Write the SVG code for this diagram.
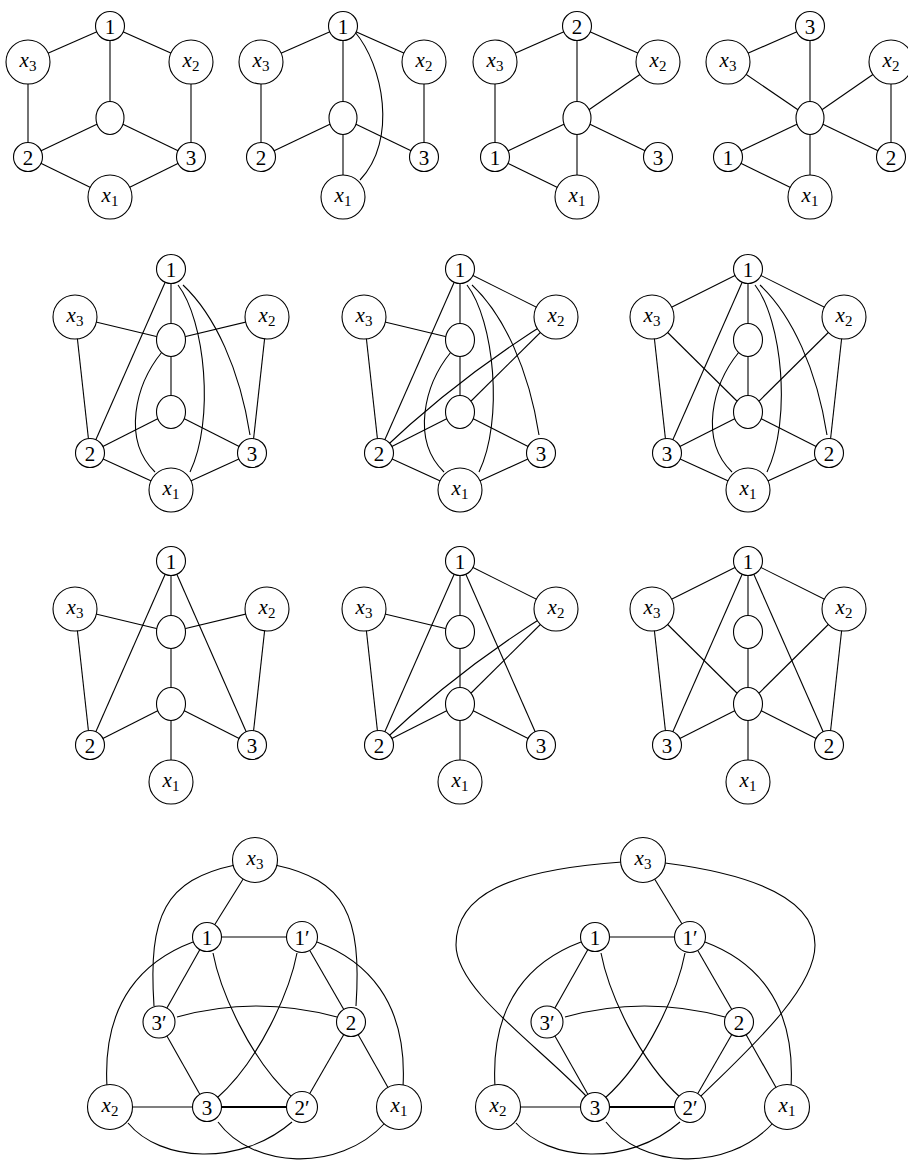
<svg xmlns="http://www.w3.org/2000/svg" width="908" height="1162" viewBox="0 0 908 1162">
<style>
.e{fill:none;stroke:#000;stroke-width:1.1}
.thick{stroke-width:2.2}
.n{fill:#fff;stroke:#000;stroke-width:1.1}
.t{font-family:"Liberation Serif",serif;font-size:21px;text-anchor:middle;fill:#000}
.xi{font-style:italic}
.sub{font-size:15px}
</style>
<rect width="908" height="1162" fill="#fff"/>

<!-- Graph 1 -->
<g id="g1" transform="translate(110,0)">
<g id="g1-edges" class="e">
<line x1="0" y1="26" x2="-82" y2="62"/><line x1="0" y1="26" x2="81" y2="62"/><line x1="0" y1="26" x2="0" y2="118"/>
<line x1="-82" y1="62" x2="-82" y2="157"/><line x1="81" y1="62" x2="81" y2="157"/>
<line x1="0" y1="118" x2="-82" y2="157"/><line x1="0" y1="118" x2="81" y2="157"/>
<line x1="-82" y1="157" x2="0" y2="197"/><line x1="81" y1="157" x2="0" y2="197"/>
</g>
<g id="g1-n1"><circle class="n" cx="0" cy="26" r="14.5"/><text class="t" x="0" y="33.5">1</text></g>
<g id="g1-x3"><circle class="n" cx="-82" cy="62" r="22"/><text class="t" x="-82" y="67"><tspan class="xi">x</tspan><tspan class="sub" dy="4">3</tspan></text></g>
<g id="g1-x2"><circle class="n" cx="81" cy="62" r="22"/><text class="t" x="81" y="67"><tspan class="xi">x</tspan><tspan class="sub" dy="4">2</tspan></text></g>
<g id="g1-c"><ellipse class="n" cx="0" cy="118" rx="14" ry="16.5"/></g>
<g id="g1-n2"><circle class="n" cx="-82" cy="157" r="14.5"/><text class="t" x="-82" y="164.5">2</text></g>
<g id="g1-n3"><circle class="n" cx="81" cy="157" r="14.5"/><text class="t" x="81" y="164.5">3</text></g>
<g id="g1-x1"><circle class="n" cx="0" cy="197" r="22"/><text class="t" x="0" y="202"><tspan class="xi">x</tspan><tspan class="sub" dy="4">1</tspan></text></g>
</g>

<!-- Graph 2 -->
<g id="g2" transform="translate(343,0)">
<g id="g2-edges" class="e">
<line x1="0" y1="26" x2="-82" y2="62"/><line x1="0" y1="26" x2="81" y2="62"/><line x1="0" y1="26" x2="0" y2="118"/>
<line x1="-82" y1="62" x2="-82" y2="157"/><line x1="81" y1="62" x2="81" y2="157"/>
<line x1="0" y1="118" x2="-82" y2="157"/><line x1="0" y1="118" x2="81" y2="157"/>
<line x1="0" y1="118" x2="0" y2="197"/>
<path d="M 12 32 C 40 65, 55 140, 17 180"/>
</g>
<g id="g2-n1"><circle class="n" cx="0" cy="26" r="14.5"/><text class="t" x="0" y="33.5">1</text></g>
<g id="g2-x3"><circle class="n" cx="-82" cy="62" r="22"/><text class="t" x="-82" y="67"><tspan class="xi">x</tspan><tspan class="sub" dy="4">3</tspan></text></g>
<g id="g2-x2"><circle class="n" cx="81" cy="62" r="22"/><text class="t" x="81" y="67"><tspan class="xi">x</tspan><tspan class="sub" dy="4">2</tspan></text></g>
<g id="g2-c"><ellipse class="n" cx="0" cy="118" rx="14" ry="16.5"/></g>
<g id="g2-n2"><circle class="n" cx="-82" cy="157" r="14.5"/><text class="t" x="-82" y="164.5">2</text></g>
<g id="g2-n3"><circle class="n" cx="81" cy="157" r="14.5"/><text class="t" x="81" y="164.5">3</text></g>
<g id="g2-x1"><circle class="n" cx="0" cy="197" r="22"/><text class="t" x="0" y="202"><tspan class="xi">x</tspan><tspan class="sub" dy="4">1</tspan></text></g>
</g>

<!-- Graph 3 -->
<g id="g3" transform="translate(577,0)">
<g id="g3-edges" class="e">
<line x1="0" y1="26" x2="-82" y2="62"/><line x1="0" y1="26" x2="81" y2="62"/><line x1="0" y1="26" x2="0" y2="118"/>
<line x1="-82" y1="62" x2="-82" y2="157"/><line x1="81" y1="62" x2="0" y2="118"/>
<line x1="0" y1="118" x2="-82" y2="157"/><line x1="0" y1="118" x2="81" y2="157"/>
<line x1="0" y1="118" x2="0" y2="197"/><line x1="-82" y1="157" x2="0" y2="197"/>
</g>
<g id="g3-n2"><circle class="n" cx="0" cy="26" r="14.5"/><text class="t" x="0" y="33.5">2</text></g>
<g id="g3-x3"><circle class="n" cx="-82" cy="62" r="22"/><text class="t" x="-82" y="67"><tspan class="xi">x</tspan><tspan class="sub" dy="4">3</tspan></text></g>
<g id="g3-x2"><circle class="n" cx="81" cy="62" r="22"/><text class="t" x="81" y="67"><tspan class="xi">x</tspan><tspan class="sub" dy="4">2</tspan></text></g>
<g id="g3-c"><ellipse class="n" cx="0" cy="118" rx="14" ry="16.5"/></g>
<g id="g3-n1"><circle class="n" cx="-82" cy="157" r="14.5"/><text class="t" x="-82" y="164.5">1</text></g>
<g id="g3-n3"><circle class="n" cx="81" cy="157" r="14.5"/><text class="t" x="81" y="164.5">3</text></g>
<g id="g3-x1"><circle class="n" cx="0" cy="197" r="22"/><text class="t" x="0" y="202"><tspan class="xi">x</tspan><tspan class="sub" dy="4">1</tspan></text></g>
</g>

<!-- Graph 4 -->
<g id="g4" transform="translate(810,0)">
<g id="g4-edges" class="e">
<line x1="0" y1="26" x2="-82" y2="62"/><line x1="0" y1="26" x2="0" y2="118"/>
<line x1="-82" y1="62" x2="0" y2="118"/><line x1="81" y1="62" x2="0" y2="118"/>
<line x1="81" y1="62" x2="81" y2="157"/>
<line x1="0" y1="118" x2="-82" y2="157"/><line x1="0" y1="118" x2="81" y2="157"/>
<line x1="0" y1="118" x2="0" y2="197"/><line x1="-82" y1="157" x2="0" y2="197"/>
</g>
<g id="g4-n3"><circle class="n" cx="0" cy="26" r="14.5"/><text class="t" x="0" y="33.5">3</text></g>
<g id="g4-x3"><circle class="n" cx="-82" cy="62" r="22"/><text class="t" x="-82" y="67"><tspan class="xi">x</tspan><tspan class="sub" dy="4">3</tspan></text></g>
<g id="g4-x2"><circle class="n" cx="81" cy="62" r="22"/><text class="t" x="81" y="67"><tspan class="xi">x</tspan><tspan class="sub" dy="4">2</tspan></text></g>
<g id="g4-c"><ellipse class="n" cx="0" cy="118" rx="14" ry="16.5"/></g>
<g id="g4-n1"><circle class="n" cx="-82" cy="157" r="14.5"/><text class="t" x="-82" y="164.5">1</text></g>
<g id="g4-n2"><circle class="n" cx="81" cy="157" r="14.5"/><text class="t" x="81" y="164.5">2</text></g>
<g id="g4-x1"><circle class="n" cx="0" cy="197" r="22"/><text class="t" x="0" y="202"><tspan class="xi">x</tspan><tspan class="sub" dy="4">1</tspan></text></g>
</g>

<!-- Graph 5 -->
<g id="g5" transform="translate(171,0)">
<g id="g5-edges" class="e">
<line x1="0" y1="269" x2="0" y2="412"/>
<line x1="-96" y1="317" x2="0" y2="340"/><line x1="96" y1="317" x2="0" y2="340"/>
<line x1="-96" y1="317" x2="-81" y2="453"/><line x1="96" y1="317" x2="81" y2="453"/>
<line x1="0" y1="269" x2="-81" y2="453"/>
<line x1="0" y1="412" x2="-81" y2="453"/><line x1="0" y1="412" x2="81" y2="453"/>
<line x1="-81" y1="453" x2="0" y2="490"/><line x1="81" y1="453" x2="0" y2="490"/>
<path d="M 12 285 C 44 315, 69 370, 79 435"/>
<path d="M 7 285 C 34 320, 44 420, 19 472"/>
<path d="M -9 352 C -36 385, -49 440, -16 472"/>
</g>
<g id="g5-n1"><circle class="n" cx="0" cy="269" r="14.5"/><text class="t" x="0" y="276.5">1</text></g>
<g id="g5-x3"><circle class="n" cx="-96" cy="317" r="22"/><text class="t" x="-96" y="322"><tspan class="xi">x</tspan><tspan class="sub" dy="4">3</tspan></text></g>
<g id="g5-x2"><circle class="n" cx="96" cy="317" r="22"/><text class="t" x="96" y="322"><tspan class="xi">x</tspan><tspan class="sub" dy="4">2</tspan></text></g>
<g id="g5-c1"><ellipse class="n" cx="0" cy="340" rx="14.5" ry="16.5"/></g>
<g id="g5-c2"><ellipse class="n" cx="0" cy="412" rx="14.5" ry="16.5"/></g>
<g id="g5-n2"><circle class="n" cx="-81" cy="453" r="14.5"/><text class="t" x="-81" y="460.5">2</text></g>
<g id="g5-n3"><circle class="n" cx="81" cy="453" r="14.5"/><text class="t" x="81" y="460.5">3</text></g>
<g id="g5-x1"><circle class="n" cx="0" cy="490" r="22"/><text class="t" x="0" y="495"><tspan class="xi">x</tspan><tspan class="sub" dy="4">1</tspan></text></g>
</g>

<!-- Graph 6 -->
<g id="g6" transform="translate(460,0)">
<g id="g6-edges" class="e">
<line x1="0" y1="269" x2="0" y2="412"/>
<line x1="-96" y1="317" x2="0" y2="340"/><line x1="0" y1="269" x2="96" y2="317"/>
<line x1="-96" y1="317" x2="-81" y2="453"/>
<line x1="0" y1="269" x2="-81" y2="453"/>
<line x1="96" y1="317" x2="0" y2="412"/>
<path d="M 96 317 Q 0 375.5, -81 453"/>
<line x1="0" y1="412" x2="-81" y2="453"/><line x1="0" y1="412" x2="81" y2="453"/>
<line x1="-81" y1="453" x2="0" y2="490"/><line x1="81" y1="453" x2="0" y2="490"/>
<path d="M 12 285 C 44 315, 69 370, 79 435"/>
<path d="M 7 285 C 34 320, 44 420, 19 472"/>
<path d="M -9 352 C -36 385, -49 440, -16 472"/>
</g>
<g id="g6-n1"><circle class="n" cx="0" cy="269" r="14.5"/><text class="t" x="0" y="276.5">1</text></g>
<g id="g6-x3"><circle class="n" cx="-96" cy="317" r="22"/><text class="t" x="-96" y="322"><tspan class="xi">x</tspan><tspan class="sub" dy="4">3</tspan></text></g>
<g id="g6-x2"><circle class="n" cx="96" cy="317" r="22"/><text class="t" x="96" y="322"><tspan class="xi">x</tspan><tspan class="sub" dy="4">2</tspan></text></g>
<g id="g6-c1"><ellipse class="n" cx="0" cy="340" rx="14.5" ry="16.5"/></g>
<g id="g6-c2"><ellipse class="n" cx="0" cy="412" rx="14.5" ry="16.5"/></g>
<g id="g6-n2"><circle class="n" cx="-81" cy="453" r="14.5"/><text class="t" x="-81" y="460.5">2</text></g>
<g id="g6-n3"><circle class="n" cx="81" cy="453" r="14.5"/><text class="t" x="81" y="460.5">3</text></g>
<g id="g6-x1"><circle class="n" cx="0" cy="490" r="22"/><text class="t" x="0" y="495"><tspan class="xi">x</tspan><tspan class="sub" dy="4">1</tspan></text></g>
</g>

<!-- Graph 7 -->
<g id="g7" transform="translate(748,0)">
<g id="g7-edges" class="e">
<line x1="0" y1="269" x2="-96" y2="317"/><line x1="0" y1="269" x2="96" y2="317"/>
<line x1="0" y1="269" x2="0" y2="412"/>
<line x1="-96" y1="317" x2="-81" y2="453"/><line x1="96" y1="317" x2="81" y2="453"/>
<line x1="-96" y1="317" x2="0" y2="412"/><line x1="96" y1="317" x2="0" y2="412"/>
<line x1="0" y1="269" x2="-81" y2="453"/>
<line x1="0" y1="412" x2="-81" y2="453"/><line x1="0" y1="412" x2="81" y2="453"/>
<line x1="-81" y1="453" x2="0" y2="490"/><line x1="81" y1="453" x2="0" y2="490"/>
<path d="M 12 285 C 44 315, 69 370, 79 435"/>
<path d="M 7 285 C 34 320, 44 420, 19 472"/>
<path d="M -9 352 C -36 385, -49 440, -16 472"/>
</g>
<g id="g7-n1"><circle class="n" cx="0" cy="269" r="14.5"/><text class="t" x="0" y="276.5">1</text></g>
<g id="g7-x3"><circle class="n" cx="-96" cy="317" r="22"/><text class="t" x="-96" y="322"><tspan class="xi">x</tspan><tspan class="sub" dy="4">3</tspan></text></g>
<g id="g7-x2"><circle class="n" cx="96" cy="317" r="22"/><text class="t" x="96" y="322"><tspan class="xi">x</tspan><tspan class="sub" dy="4">2</tspan></text></g>
<g id="g7-c1"><ellipse class="n" cx="0" cy="340" rx="14.5" ry="16.5"/></g>
<g id="g7-c2"><ellipse class="n" cx="0" cy="412" rx="14.5" ry="16.5"/></g>
<g id="g7-n3"><circle class="n" cx="-81" cy="453" r="14.5"/><text class="t" x="-81" y="460.5">3</text></g>
<g id="g7-n2"><circle class="n" cx="81" cy="453" r="14.5"/><text class="t" x="81" y="460.5">2</text></g>
<g id="g7-x1"><circle class="n" cx="0" cy="490" r="22"/><text class="t" x="0" y="495"><tspan class="xi">x</tspan><tspan class="sub" dy="4">1</tspan></text></g>
</g>

<!-- Graph 8 -->
<g id="g8" transform="translate(171,292)">
<g id="g8-edges" class="e">
<line x1="0" y1="269" x2="0" y2="490"/>
<line x1="-96" y1="317" x2="0" y2="340"/><line x1="96" y1="317" x2="0" y2="340"/>
<line x1="-96" y1="317" x2="-81" y2="453"/><line x1="96" y1="317" x2="81" y2="453"/>
<line x1="0" y1="269" x2="-81" y2="453"/><line x1="0" y1="269" x2="81" y2="453"/>
<line x1="0" y1="412" x2="-81" y2="453"/><line x1="0" y1="412" x2="81" y2="453"/>
</g>
<g id="g8-n1"><circle class="n" cx="0" cy="269" r="14.5"/><text class="t" x="0" y="276.5">1</text></g>
<g id="g8-x3"><circle class="n" cx="-96" cy="317" r="22"/><text class="t" x="-96" y="322"><tspan class="xi">x</tspan><tspan class="sub" dy="4">3</tspan></text></g>
<g id="g8-x2"><circle class="n" cx="96" cy="317" r="22"/><text class="t" x="96" y="322"><tspan class="xi">x</tspan><tspan class="sub" dy="4">2</tspan></text></g>
<g id="g8-c1"><ellipse class="n" cx="0" cy="340" rx="14.5" ry="16.5"/></g>
<g id="g8-c2"><ellipse class="n" cx="0" cy="412" rx="14.5" ry="16.5"/></g>
<g id="g8-n2"><circle class="n" cx="-81" cy="453" r="14.5"/><text class="t" x="-81" y="460.5">2</text></g>
<g id="g8-n3"><circle class="n" cx="81" cy="453" r="14.5"/><text class="t" x="81" y="460.5">3</text></g>
<g id="g8-x1"><circle class="n" cx="0" cy="490" r="22"/><text class="t" x="0" y="495"><tspan class="xi">x</tspan><tspan class="sub" dy="4">1</tspan></text></g>
</g>

<!-- Graph 9 -->
<g id="g9" transform="translate(460,292)">
<g id="g9-edges" class="e">
<line x1="0" y1="269" x2="0" y2="490"/>
<line x1="-96" y1="317" x2="0" y2="340"/><line x1="0" y1="269" x2="96" y2="317"/>
<line x1="-96" y1="317" x2="-81" y2="453"/>
<line x1="0" y1="269" x2="-81" y2="453"/><line x1="0" y1="269" x2="81" y2="453"/>
<line x1="96" y1="317" x2="0" y2="412"/>
<path d="M 96 317 Q 0 375.5, -81 453"/>
<line x1="0" y1="412" x2="-81" y2="453"/><line x1="0" y1="412" x2="81" y2="453"/>
</g>
<g id="g9-n1"><circle class="n" cx="0" cy="269" r="14.5"/><text class="t" x="0" y="276.5">1</text></g>
<g id="g9-x3"><circle class="n" cx="-96" cy="317" r="22"/><text class="t" x="-96" y="322"><tspan class="xi">x</tspan><tspan class="sub" dy="4">3</tspan></text></g>
<g id="g9-x2"><circle class="n" cx="96" cy="317" r="22"/><text class="t" x="96" y="322"><tspan class="xi">x</tspan><tspan class="sub" dy="4">2</tspan></text></g>
<g id="g9-c1"><ellipse class="n" cx="0" cy="340" rx="14.5" ry="16.5"/></g>
<g id="g9-c2"><ellipse class="n" cx="0" cy="412" rx="14.5" ry="16.5"/></g>
<g id="g9-n2"><circle class="n" cx="-81" cy="453" r="14.5"/><text class="t" x="-81" y="460.5">2</text></g>
<g id="g9-n3"><circle class="n" cx="81" cy="453" r="14.5"/><text class="t" x="81" y="460.5">3</text></g>
<g id="g9-x1"><circle class="n" cx="0" cy="490" r="22"/><text class="t" x="0" y="495"><tspan class="xi">x</tspan><tspan class="sub" dy="4">1</tspan></text></g>
</g>

<!-- Graph 10 -->
<g id="g10" transform="translate(748,292)">
<g id="g10-edges" class="e">
<line x1="0" y1="269" x2="-96" y2="317"/><line x1="0" y1="269" x2="96" y2="317"/>
<line x1="0" y1="269" x2="0" y2="490"/>
<line x1="-96" y1="317" x2="-81" y2="453"/><line x1="96" y1="317" x2="81" y2="453"/>
<line x1="-96" y1="317" x2="0" y2="412"/><line x1="96" y1="317" x2="0" y2="412"/>
<line x1="0" y1="269" x2="-81" y2="453"/><line x1="0" y1="269" x2="81" y2="453"/>
<line x1="0" y1="412" x2="-81" y2="453"/><line x1="0" y1="412" x2="81" y2="453"/>
</g>
<g id="g10-n1"><circle class="n" cx="0" cy="269" r="14.5"/><text class="t" x="0" y="276.5">1</text></g>
<g id="g10-x3"><circle class="n" cx="-96" cy="317" r="22"/><text class="t" x="-96" y="322"><tspan class="xi">x</tspan><tspan class="sub" dy="4">3</tspan></text></g>
<g id="g10-x2"><circle class="n" cx="96" cy="317" r="22"/><text class="t" x="96" y="322"><tspan class="xi">x</tspan><tspan class="sub" dy="4">2</tspan></text></g>
<g id="g10-c1"><ellipse class="n" cx="0" cy="340" rx="14.5" ry="16.5"/></g>
<g id="g10-c2"><ellipse class="n" cx="0" cy="412" rx="14.5" ry="16.5"/></g>
<g id="g10-n3"><circle class="n" cx="-81" cy="453" r="14.5"/><text class="t" x="-81" y="460.5">3</text></g>
<g id="g10-n2"><circle class="n" cx="81" cy="453" r="14.5"/><text class="t" x="81" y="460.5">2</text></g>
<g id="g10-x1"><circle class="n" cx="0" cy="490" r="22"/><text class="t" x="0" y="495"><tspan class="xi">x</tspan><tspan class="sub" dy="4">1</tspan></text></g>
</g>

<!-- Graph 11 -->
<g id="g11">
<g id="g11-edges" class="e">
<line x1="255" y1="860" x2="207" y2="937"/>
<line x1="207" y1="937" x2="302" y2="937"/>
<line x1="207" y1="937" x2="159" y2="1022"/>
<line x1="302" y1="937" x2="351" y2="1022"/>
<line x1="159" y1="1022" x2="207" y2="1107"/>
<line x1="351" y1="1022" x2="302" y2="1107"/>
<line x1="351" y1="1022" x2="399" y2="1107"/>
<line x1="110" y1="1107" x2="207" y2="1107"/>
<line class="thick" x1="207" y1="1107" x2="302" y2="1107"/>
<path d="M 235 865 C 165 880, 148 915, 154 1006"/>
<path d="M 275 865 C 345 880, 362 915, 356 1006"/>
<path d="M 193 942 C 145 960, 102 1000, 107 1087"/>
<path d="M 317 942 C 365 960, 408 1000, 403 1087"/>
<path d="M 213 953 C 220 990, 250 1060, 293 1098"/>
<path d="M 297 953 C 290 990, 260 1060, 217 1098"/>
<path d="M 177 1017 Q 256 995 337 1017"/>
<path d="M 128 1123 C 160 1162, 240 1167, 292 1122"/>
<path d="M 218 1122 C 252 1168, 338 1174, 385 1123"/>
</g>
<g id="g11-x3"><circle class="n" cx="255" cy="860" r="22.5"/><text class="t" x="255" y="865"><tspan class="xi">x</tspan><tspan class="sub" dy="4">3</tspan></text></g>
<g id="g11-n1"><circle class="n" cx="207" cy="937" r="14.5"/><text class="t" x="207" y="944.5">1</text></g>
<g id="g11-n1p"><circle class="n" cx="302" cy="937" r="15.5"/><text class="t" x="302" y="944.5">1′</text></g>
<g id="g11-n3p"><circle class="n" cx="159" cy="1022" r="16"/><text class="t" x="159" y="1029.5">3′</text></g>
<g id="g11-n2"><circle class="n" cx="351" cy="1022" r="14.5"/><text class="t" x="351" y="1029.5">2</text></g>
<g id="g11-x2"><circle class="n" cx="110" cy="1107" r="22.5"/><text class="t" x="110" y="1112"><tspan class="xi">x</tspan><tspan class="sub" dy="4">2</tspan></text></g>
<g id="g11-n3"><circle class="n" cx="207" cy="1107" r="14.5"/><text class="t" x="207" y="1114.5">3</text></g>
<g id="g11-n2p"><circle class="n" cx="302" cy="1107" r="15.5"/><text class="t" x="302" y="1114.5">2′</text></g>
<g id="g11-x1"><circle class="n" cx="399" cy="1107" r="22.5"/><text class="t" x="399" y="1112"><tspan class="xi">x</tspan><tspan class="sub" dy="4">1</tspan></text></g>
</g>

<!-- Graph 12 -->
<g id="g12" transform="translate(388,0)">
<g id="g12-edges" class="e">
<line x1="255" y1="860" x2="302" y2="937"/>
<line x1="207" y1="937" x2="302" y2="937"/>
<line x1="207" y1="937" x2="159" y2="1022"/>
<line x1="302" y1="937" x2="351" y2="1022"/>
<line x1="159" y1="1022" x2="207" y2="1107"/>
<line x1="351" y1="1022" x2="302" y2="1107"/>
<line x1="351" y1="1022" x2="399" y2="1107"/>
<line x1="110" y1="1107" x2="207" y2="1107"/>
<line class="thick" x1="207" y1="1107" x2="302" y2="1107"/>
<path d="M 234 862 C 120 870, 68 895, 68 945 C 68 990, 150 1045, 199 1097"/>
<path d="M 277 863 C 370 875, 427 900, 427 945 C 427 990, 360 1050, 312 1097"/>
<path d="M 193 942 C 145 960, 102 1000, 107 1087"/>
<path d="M 317 942 C 365 960, 408 1000, 403 1087"/>
<path d="M 213 953 C 220 990, 250 1060, 293 1098"/>
<path d="M 297 953 C 290 990, 260 1060, 217 1098"/>
<path d="M 177 1017 Q 256 995 337 1017"/>
<path d="M 128 1123 C 160 1162, 240 1167, 292 1122"/>
<path d="M 218 1122 C 252 1168, 338 1174, 385 1123"/>
</g>
<g id="g12-x3"><circle class="n" cx="255" cy="860" r="22.5"/><text class="t" x="255" y="865"><tspan class="xi">x</tspan><tspan class="sub" dy="4">3</tspan></text></g>
<g id="g12-n1"><circle class="n" cx="207" cy="937" r="14.5"/><text class="t" x="207" y="944.5">1</text></g>
<g id="g12-n1p"><circle class="n" cx="302" cy="937" r="15.5"/><text class="t" x="302" y="944.5">1′</text></g>
<g id="g12-n3p"><circle class="n" cx="159" cy="1022" r="16"/><text class="t" x="159" y="1029.5">3′</text></g>
<g id="g12-n2"><circle class="n" cx="351" cy="1022" r="14.5"/><text class="t" x="351" y="1029.5">2</text></g>
<g id="g12-x2"><circle class="n" cx="110" cy="1107" r="22.5"/><text class="t" x="110" y="1112"><tspan class="xi">x</tspan><tspan class="sub" dy="4">2</tspan></text></g>
<g id="g12-n3"><circle class="n" cx="207" cy="1107" r="14.5"/><text class="t" x="207" y="1114.5">3</text></g>
<g id="g12-n2p"><circle class="n" cx="302" cy="1107" r="15.5"/><text class="t" x="302" y="1114.5">2′</text></g>
<g id="g12-x1"><circle class="n" cx="399" cy="1107" r="22.5"/><text class="t" x="399" y="1112"><tspan class="xi">x</tspan><tspan class="sub" dy="4">1</tspan></text></g>
</g>
</svg>
